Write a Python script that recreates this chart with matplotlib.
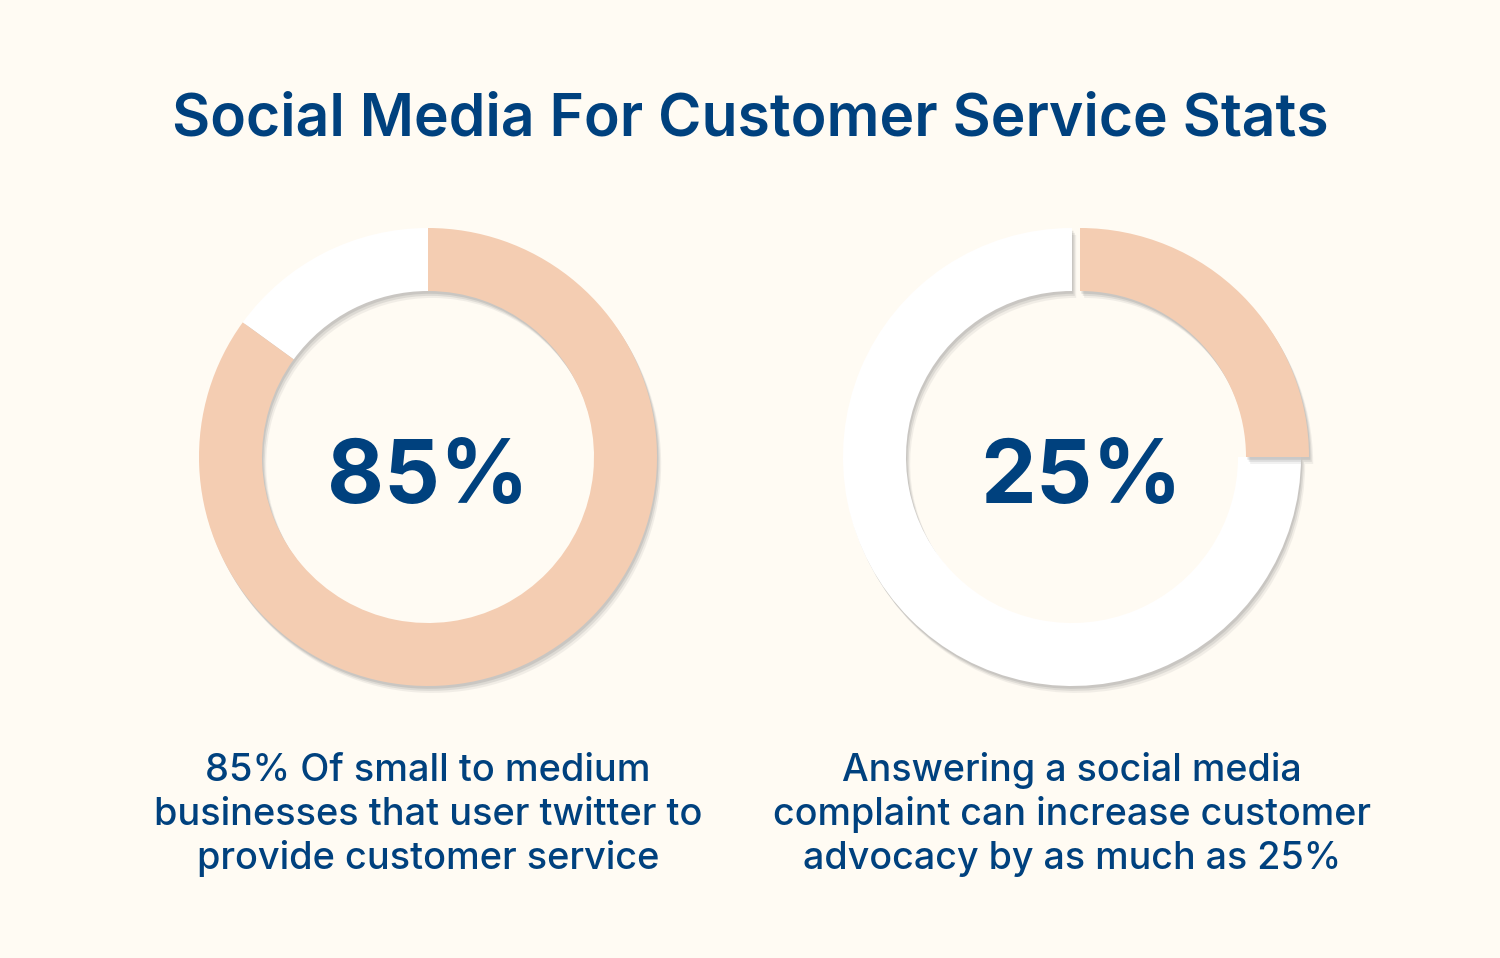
import matplotlib
matplotlib.use("Agg")
import matplotlib.pyplot as plt
from matplotlib.patches import Wedge
import matplotlib.patheffects as pe

# data
title = "Social Media For Customer Service Stats"
values = [85, 25]
big_labels = ["85%", "25%"]
captions = [
    ["85% Of small to medium", "businesses that user twitter to", "provide customer service"],
    ["Answering a social media", "complaint can increase customer", "advocacy by as much as 25%"],
]

BG = "#FFFBF3"
PEACH = "#F4CDB2"
RING = "#FFFFFF"
BLUE = "#00417E"
FONT = ["Inter", "DejaVu Sans"]

W, H = 1500, 958
fig = plt.figure(figsize=(15, 9.58), dpi=100, facecolor=BG)
ax = fig.add_axes([0, 0, 1, 1])
ax.set_xlim(0, W)
ax.set_ylim(0, H)
ax.set_aspect("equal")
ax.axis("off")
ax.set_facecolor(BG)

renderer = fig.canvas.get_renderer()


def fitted_text(x, y, s, width, size, weight, **kw):
    # draw text then scale fontsize so its width matches the picture
    t = ax.text(x, y, s, fontsize=size, fontweight=weight, color=BLUE,
                family=FONT, ha="center", va="baseline", **kw)
    w = t.get_window_extent(renderer).width
    t.set_fontsize(size * width / w)
    return t


def shadow():
    # a few stacked offsets to fake a soft drop shadow
    return [pe.SimplePatchShadow(offset=(3, -5), shadow_rgbFace="#7a7a7a", alpha=0.10),
            pe.SimplePatchShadow(offset=(2, -3.5), shadow_rgbFace="#7a7a7a", alpha=0.16),
            pe.SimplePatchShadow(offset=(1, -2), shadow_rgbFace="#7a7a7a", alpha=0.2),
            pe.Normal()]


centers = [428, 1072]
cy = H - 457
r_out, ring_w = 229, 63

for i, (cx, v) in enumerate(zip(centers, values)):
    ang = 360 * v / 100
    rest = Wedge((cx, cy), r_out, 90, 90 + 360 - ang, width=ring_w,
                 facecolor=RING, edgecolor="none")
    rest.set_path_effects(shadow())
    ax.add_patch(rest)
    # second chart has its slice pulled out to the right
    dx = 8 if i == 1 else 0
    part = Wedge((cx + dx, cy), r_out, 90 - ang, 90, width=ring_w,
                 facecolor=PEACH, edgecolor="none")
    part.set_path_effects(shadow())
    ax.add_patch(part)

fitted_text(750, H - 135, title, 1156, 40, "semibold")

num_x = [428, 1081]
for x, lab in zip(num_x, big_labels):
    fitted_text(x, H - 503, lab, 202, 60, "bold")

line_base = [781, 825, 869]
cap_widths = [[445, 552, 458], [464, 608, 520]]
for x, lines, widths in zip(centers, captions, cap_widths):
    sizes = []
    for s, wd in zip(lines, widths):
        t = ax.text(0, 0, s, fontsize=24, fontweight="medium", family=FONT)
        sizes.append(24 * wd / t.get_window_extent(renderer).width)
        t.remove()
    fs = sum(sizes) / len(sizes)
    for s, yb in zip(lines, line_base):
        ax.text(x, H - yb, s, fontsize=fs, fontweight="medium", color=BLUE,
                family=FONT, ha="center", va="baseline")

fig.savefig("out.png", dpi=100, facecolor=BG)
